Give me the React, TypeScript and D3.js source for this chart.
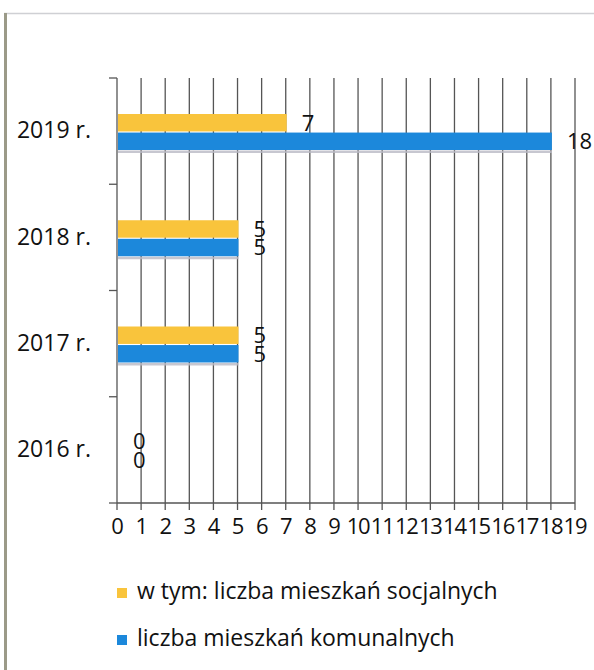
import React from "react";
import * as d3 from "d3";

const categories = ["2019 r.", "2018 r.", "2017 r.", "2016 r."];
const socjalne = [7, 5, 5, 0];
const komunalne = [18, 5, 5, 0];
const xTicks = d3.range(0, 20);
const seriesNames = ["w tym: liczba mieszkań socjalnych", "liczba mieszkań komunalnych"];
const seriesColors = ["#F9C43C", "#1C88DB"];

const W = 594;
const H = 670;
const FONT = "'Open Sans', 'Noto Sans', sans-serif";

export default function App() {
  const x = d3.scaleLinear().domain([0, 19]).range([117, 575]);
  const y = d3.scaleBand<string>().domain(categories).range([78, 503]);
  const inner = d3.scaleBand<number>().domain([0, 1]).range([36, 72]).paddingInner(0.06);
  const series = [socjalne, komunalne];
  const bw = y.bandwidth();
  const y0 = 78, y1 = 503;

  return (
    <svg width={W} height={H} style={{ position: "absolute", left: 0, top: 0, background: "#fff" }}>
      <rect x={0} y={0} width={W} height={H} fill="#fff" />
      {/* frame */}
      <line x1={4} x2={W} y1={13.5} y2={13.5} stroke="#cfd0d4" strokeWidth={1.5} />
      <rect x={4} y={13} width={3} height={H - 13} fill="#9b9a88" />

      {/* gridlines */}
      {xTicks.slice(1).map((t) => (
        <line key={"g" + t} x1={x(t)} x2={x(t)} y1={y0} y2={y1 + 7} stroke="#555" strokeWidth={1.3} />
      ))}
      {/* y axis */}
      <line x1={x(0)} x2={x(0)} y1={y0} y2={y1 + 7} stroke="#555" strokeWidth={1.3} />
      {[...categories.map((c) => y(c)!), y1].map((v, i) => (
        <line key={"yt" + i} x1={x(0) - 8} x2={x(0)} y1={v} y2={v} stroke="#555" strokeWidth={1.3} />
      ))}
      {/* x axis */}
      <line x1={x(0)} x2={x(19)} y1={y1} y2={y1} stroke="#555" strokeWidth={1.3} />

      {/* bars */}
      {categories.map((c, ci) => (
        <g key={c} transform={`translate(0,${y(c)})`}>
          {series.map((s, si) => {
            const by = inner(si)!;
            const bh = inner.bandwidth();
            const v = s[ci];
            return (
              <g key={si}>
                {v > 0 && si === 1 && (
                  <rect x={x(0) + 1} y={by + bh + 0.5} width={x(v) - x(0)} height={2.5} fill="#b9b9c4" opacity={0.8} />
                )}
                {v > 0 && (
                  <rect x={x(0) + 1} y={by} width={x(v) - x(0)} height={bh} fill={seriesColors[si]} />
                )}
                <text
                  x={x(v) + 16}
                  y={by + bh / 2 + 2}
                  dominantBaseline="middle"
                  fontFamily={FONT}
                  fontSize={22}
                  fill="#111"
                >
                  {v}
                </text>
              </g>
            );
          })}
          <text
            x={91}
            y={bw / 2 + 1}
            textAnchor="end"
            dominantBaseline="middle"
            fontFamily={FONT}
            fontSize={23}
            fill="#111"
          >
            {c}
          </text>
        </g>
      ))}

      {/* x tick labels */}
      {xTicks.map((t) => (
        <text key={"xt" + t} x={x(t)} y={528} textAnchor="middle" dominantBaseline="middle" fontFamily={FONT} fontSize={22} fill="#111" letterSpacing={-1.2}>
          {t}
        </text>
      ))}

      {/* legend */}
      {seriesNames.map((n, i) => (
        <g key={n} transform={`translate(117,${588 + i * 47})`}>
          <rect x={0} y={0} width={10} height={10} fill={seriesColors[i]} />
          <text x={20} y={5} dominantBaseline="middle" fontFamily={FONT} fontSize={23} fill="#111">
            {n}
          </text>
        </g>
      ))}
    </svg>
  );
}
